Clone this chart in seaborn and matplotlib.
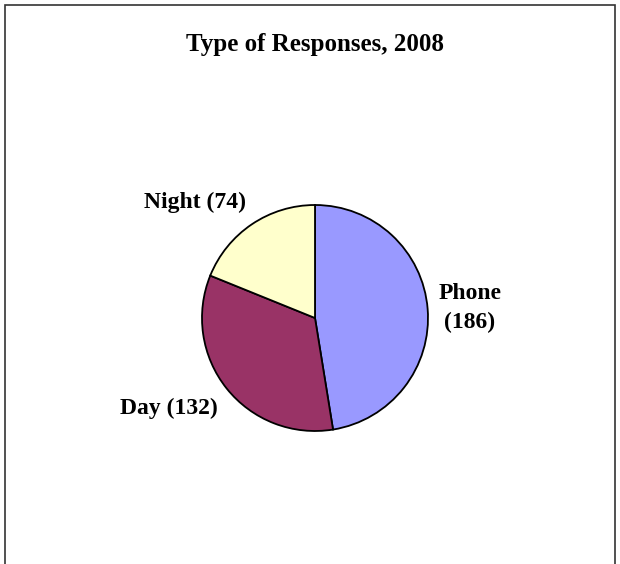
import matplotlib
matplotlib.use("Agg")
import matplotlib.pyplot as plt
from matplotlib.patches import Rectangle
import seaborn as sns

# data
categories = ["Phone", "Day", "Night"]
responses = [186, 132, 74]
colors = ["#9999FF", "#993366", "#FFFFCC"]

sns.set_theme(style="white")
plt.rcParams["font.family"] = ["Liberation Serif", "DejaVu Serif"]
plt.rcParams["text.color"] = "black"

W, H = 620, 564
fig = plt.figure(figsize=(W / 100, H / 100), dpi=100)

# pie centre and radius in pixels
cx, cy, r = 315, 318, 113
half = 1.25 * r
ax = fig.add_axes([(cx - half) / W, (H - cy - half) / H, 2 * half / W, 2 * half / H])
ax.pie(responses, colors=colors, startangle=90, counterclock=False,
       wedgeprops=dict(edgecolor="black", linewidth=1.3))
ax.set_xlim(-1.25, 1.25)
ax.set_ylim(-1.25, 1.25)
ax.set_aspect("equal")
ax.axis("off")

# labels
label_pos = {"Phone": (1.37, 0.09), "Day": (-1.29, -0.80), "Night": (-1.06, 1.02)}
for name, val in zip(categories, responses):
    txt = f"{name}\n({val})" if name == "Phone" else f"{name} ({val})"
    x, y = label_pos[name]
    ax.text(x, y, txt, ha="center", va="center", fontsize=17, fontweight="bold",
            linespacing=1.5, color="black", clip_on=False)

fig.text(315 / W, 1 - 51 / H, "Type of Responses, 2008", ha="center", va="baseline",
         fontsize=18, fontweight="bold", color="black")

# outer frame
fig.add_artist(Rectangle((5 / W, -0.1), 610 / W, (H - 5) / H + 0.1,
                         transform=fig.transFigure, fill=False,
                         edgecolor="#333333", linewidth=1.2))

fig.savefig("out.png", dpi=100)
